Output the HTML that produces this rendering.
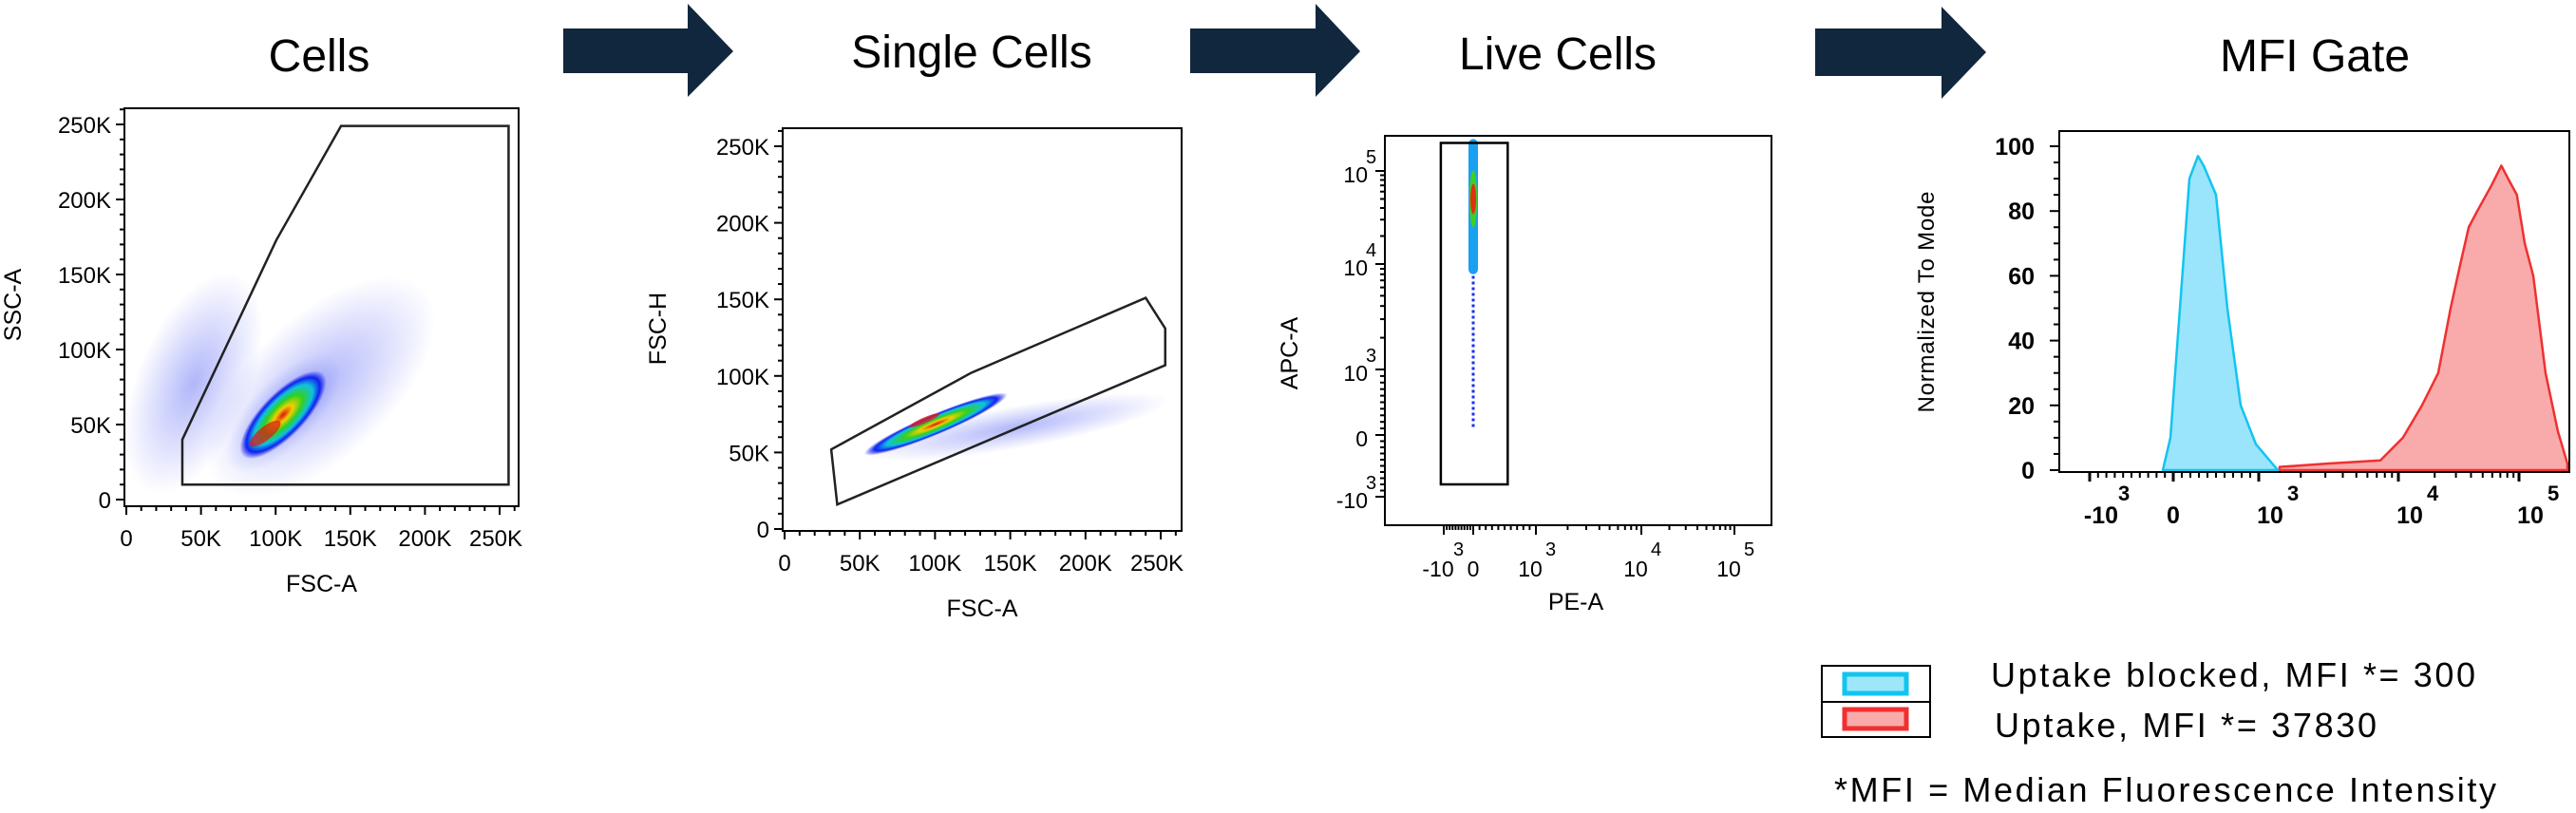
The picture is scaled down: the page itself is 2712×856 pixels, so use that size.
<!DOCTYPE html>
<html><head><meta charset="utf-8"><style>
html,body{margin:0;padding:0;background:#fff;}
svg{display:block;font-family:"Liberation Sans",sans-serif;}
</style></head><body>
<svg id="root" width="2712" height="856" viewBox="0 0 2712 856" xmlns="http://www.w3.org/2000/svg">
<defs>
<radialGradient id="gBlob"><stop offset="0" stop-color="#e01010"/><stop offset="0.22" stop-color="#f0d000"/><stop offset="0.45" stop-color="#30d020"/><stop offset="0.68" stop-color="#10c0e0"/><stop offset="0.85" stop-color="#1020f0"/><stop offset="1" stop-color="#1020f0" stop-opacity="0"/></radialGradient>
<radialGradient id="gBlue"><stop offset="0" stop-color="#2030f0" stop-opacity="0.35"/><stop offset="1" stop-color="#2030f0" stop-opacity="0"/></radialGradient>
</defs>
<g id="titles" font-size="48" text-anchor="middle" fill="#000">
<text x="336" y="75">Cells</text>
<text x="1023" y="71">Single Cells</text>
<text x="1640" y="73">Live Cells</text>
<text x="2437" y="75">MFI Gate</text>
</g>
<g fill="#11273d">
<polygon points="593,30 724,30 724,4 772,54 724,102 724,77 593,77"/>
<polygon points="1253,30 1385,30 1385,4 1432,54 1385,102 1385,77 1253,77"/>
<polygon points="1911,30 2044,30 2044,7 2091,55 2044,104 2044,80 1911,80"/>
</g>
<g id="p1"></g>
<g id="p2"></g>
<g id="p3"></g>
<g id="p4"></g>
<g>
<rect x="1918" y="701" width="114" height="75" fill="none" stroke="#000" stroke-width="2"/>
<line x1="1918" y1="739" x2="2032" y2="739" stroke="#000" stroke-width="2"/>
<rect x="1942" y="710" width="65" height="20" fill="#9ee7fb" stroke="#12c4f0" stroke-width="5"/>
<rect x="1942" y="747" width="65" height="20" fill="#f9aaaa" stroke="#f03030" stroke-width="5"/>
<text x="2096" y="723" font-size="36" textLength="510">Uptake blocked, MFI *= 300</text>
<text x="2100" y="776" font-size="36" textLength="402">Uptake, MFI *= 37830</text>
<text x="1931" y="844" font-size="36" textLength="697">*MFI = Median Fluorescence Intensity</text>
</g>
</svg>
<script>
// ---- data ----
const p1Ticks = [0, 50000, 100000, 150000, 200000, 250000];
const p1TickLabels = ["0", "50K", "100K", "150K", "200K", "250K"];
const p1Gate = [[37500, 40000], [100500, 173000], [143800, 249000], [256000, 249000], [256000, 10000], [37500, 10000]];
const p1ClusterStart = [78000, 29000];
const p1ClusterEnd = [132000, 84000];
const p1Core = [93000, 44000];
const p2Gate = [[31000, 52000], [35000, 16000], [253000, 107000], [253000, 131000], [240000, 151000], [124000, 102000]];
const p2ClusterStart = [53000, 49000];
const p2ClusterEnd = [148000, 88000];
const p2Core = [93000, 71000];
const p2Sparse = [255000, 84000];
const p3LogTicks = [-1000, 0, 1000, 10000, 100000];
const p3Gate = [[-1100, 200000], [550, -800]];
const p3StreakTop = 220000;
const p3StreakBottom = 80;
const p3Core = 50000;
const histTicks = [-1000, 0, 1000, 10000, 100000];
const histTickLabels = ["-10", "0", "10", "10", "10"];
const histTickExp = ["3", "", "3", "4", "5"];
const histYTicks = [0, 20, 40, 60, 80, 100];
const blockedX = [-125, -34, 78, 189, 289, 356, 500, 633, 789, 967, 1370];
const blockedY = [0, 10, 50, 90, 97, 94, 85, 50, 20, 8, 0];
const uptakeX = [1410, 3090, 7430, 10900, 15700, 21400, 27100, 31900, 38300, 45100, 59300, 71400, 81200, 96000, 111600, 131300, 166000, 210000, 252000];
const uptakeY = [1, 2, 3, 10, 20, 30, 50, 62, 75, 80, 88, 94, 90, 85, 70, 60, 30, 12, 2];

const NS = "http://www.w3.org/2000/svg";
function mk(parent, tag, attrs) {
  const e = document.createElementNS(NS, tag);
  for (const k in attrs) e.setAttribute(k, attrs[k]);
  parent.appendChild(e);
  return e;
}
function lin(d0, d1, r0, r1) { return v => r0 + (v - d0) / (d1 - d0) * (r1 - r0); }

function linearPanel(g, box, sx, sy, ylabel, ylabX, ylabY) {
  const frame = mk(g, "rect", {x: box[0], y: box[1], width: box[2] - box[0], height: box[3] - box[1], fill: "none", stroke: "#000", "stroke-width": 2});
  
  
  for (let v = 0; v <= 260000; v += 10000) {
    const major = v % 50000 === 0;
    const L = major ? 9 : 5;
    mk(g, "line", {x1: box[0] - L, x2: box[0], y1: sy(v), y2: sy(v), stroke: "#000", "stroke-width": 2});
    mk(g, "line", {x1: sx(v), x2: sx(v), y1: box[3], y2: box[3] + L, stroke: "#000", "stroke-width": 2});
  }
  p1Ticks.forEach((v, i) => {
    const ty = mk(g, "text", {x: box[0] - 14, y: sy(v) + 9, "font-size": 24, "text-anchor": "end"});
    ty.textContent = p1TickLabels[i];
    
    
    const tx = mk(g, "text", {x: sx(v) + (i === 5 ? -4 : 0), y: box[3] + 42, "font-size": 24, "text-anchor": "middle"});
    tx.textContent = p1TickLabels[i];
    
    
  });
  const xt = mk(g, "text", {x: (box[0] + box[2]) / 2, y: box[3] + 90, "font-size": 25, "text-anchor": "middle"});
  xt.textContent = "FSC-A";
  
  
  const yt = mk(g, "text", {x: ylabX, y: ylabY, "font-size": 25, "text-anchor": "middle", transform: `rotate(-90 ${ylabX} ${ylabY})`});
  yt.textContent = ylabel;
  
  
}
function blob(g, sx, sy, a, b, w, fill, name) {
  const x1 = sx(a[0]), y1 = sy(a[1]), x2 = sx(b[0]), y2 = sy(b[1]);
  const cx = (x1 + x2) / 2, cy = (y1 + y2) / 2;
  const len = Math.hypot(x2 - x1, y2 - y1);
  const ang = Math.atan2(y2 - y1, x2 - x1) * 180 / Math.PI;
  const e = mk(g, "ellipse", {cx: cx, cy: cy, rx: len / 2, ry: w / 2, fill: fill, transform: `rotate(${ang} ${cx} ${cy})`});
  
  
  return e;
}
function gate(g, pts, sx, sy) {
  const p = mk(g, "polygon", {points: pts.map(q => sx(q[0]) + "," + sy(q[1])).join(" "), fill: "none", stroke: "#222", "stroke-width": 2.5});
  
  
}

// Panel 1
(function () {
  const g = document.getElementById("p1");
  const box = [131, 114, 546, 533];
  const sx = lin(0, 250000, 133, 526), sy = lin(0, 250000, 526, 131);
  blob(g, sx, sy, [15000, 5000], [75000, 150000], 120, "url(#gBlue)", "sparse-events");
  blob(g, sx, sy, [60000, 10000], [200000, 140000], 150, "url(#gBlue)", "sparse-events");
  blob(g, sx, sy, [p1ClusterStart[0] - 8000, p1ClusterStart[1] - 8000], [p1ClusterEnd[0] + 8000, p1ClusterEnd[1] + 10000], 70, "url(#gBlue)", "cluster-halo");
  blob(g, sx, sy, p1ClusterStart, p1ClusterEnd, 46, "url(#gBlob)", "cell-cluster");
  blob(g, sx, sy, [p1Core[0] - 10000, p1Core[1] - 8000], [p1Core[0] + 10000, p1Core[1] + 8000], 14, "rgba(225,20,20,0.7)", "cluster-core");
  gate(g, p1Gate, sx, sy);
  linearPanel(g, box, sx, sy, "SSC-A", 22, 321);
})();

// Panel 2
(function () {
  const g = document.getElementById("p2");
  const box = [824, 135, 1244, 559];
  const sx = lin(0, 250000, 826, 1222), sy = lin(0, 250000, 557, 154);
  blob(g, sx, sy, p2ClusterStart, p2Sparse, 45, "url(#gBlue)", "sparse-events");
  blob(g, sx, sy, p2ClusterStart, p2ClusterEnd, 22, "url(#gBlob)", "singlet-cluster");
  blob(g, sx, sy, [p2Core[0] - 10000, p2Core[1] - 4200], [p2Core[0] + 10000, p2Core[1] + 4200], 6, "rgba(225,20,20,0.75)", "cluster-core");
  gate(g, p2Gate, sx, sy);
  linearPanel(g, box, sx, sy, "FSC-H", 701, 346);
})();

// biexponential-like axis via anchors
function biex(anchorsV, anchorsP) {
  return v => {
    const n = anchorsV.length;
    const u = x => x >= 1000 ? 1000 * (1 + Math.log10(x / 1000)) : x;
    const uv = u(v);
    const ua = anchorsV.map(u);
    let i = 0;
    while (i < n - 2 && uv > ua[i + 1]) i++;
    return anchorsP[i] + (uv - ua[i]) / (ua[i + 1] - ua[i]) * (anchorsP[i + 1] - anchorsP[i]);
  };
}

// Panel 3
(function () {
  const g = document.getElementById("p3");
  const box = [1458, 143, 1865, 553];
  const sx = biex(p3LogTicks, [1520, 1551, 1617, 1728, 1826]);
  const sy = biex(p3LogTicks, [523, 458, 389, 278, 180]);
  const frame = mk(g, "rect", {x: box[0], y: box[1], width: box[2] - box[0], height: box[3] - box[1], fill: "none", stroke: "#000", "stroke-width": 2});
  
  
  const x0 = sx(0);
  const s = mk(g, "line", {x1: x0, x2: x0, y1: sy(p3StreakTop), y2: sy(p3StreakBottom), stroke: "#1a30f0", "stroke-width": 3, "stroke-dasharray": "3 3"});
  
  
  const s2 = mk(g, "rect", {x: x0 - 5, y: sy(p3StreakTop), width: 10, height: sy(8000) - sy(p3StreakTop), fill: "#1aa0f0", rx: 5});
  
  
  const c = mk(g, "ellipse", {cx: x0, cy: sy(p3Core), rx: 4, ry: 30, fill: "#40d020"});
  
  
  const c2 = mk(g, "ellipse", {cx: x0, cy: sy(p3Core), rx: 3, ry: 16, fill: "#e03010"});
  
  
  const gr = mk(g, "rect", {x: sx(p3Gate[0][0]), y: sy(p3Gate[0][1]), width: sx(p3Gate[1][0]) - sx(p3Gate[0][0]), height: sy(p3Gate[1][1]) - sy(p3Gate[0][1]), fill: "none", stroke: "#000", "stroke-width": 2.5});
  
  
  const ex = ["3", "", "3", "4", "5"], base = ["-10", "0", "10", "10", "10"];
  p3LogTicks.forEach((v, i) => {
    mk(g, "line", {x1: sx(v), x2: sx(v), y1: box[3], y2: box[3] + 10, stroke: "#000", "stroke-width": 2});
    mk(g, "line", {x1: box[0] - 10, x2: box[0], y1: sy(v), y2: sy(v), stroke: "#000", "stroke-width": 2});
    const tx = mk(g, "text", {x: sx(v) - (i === 0 ? 6 : i === 1 ? 0 : 6), y: box[3] + 54, "font-size": 23, "text-anchor": "middle"});
    tx.textContent = base[i];
    
    
    if (ex[i]) { const e = mk(g, "text", {x: sx(v) + 10, y: box[3] + 32, "font-size": 20}); e.textContent = ex[i]; }
    const ty = mk(g, "text", {x: box[0] - 18, y: sy(v) + 12, "font-size": 23, "text-anchor": "end"});
    ty.textContent = base[i];
    
    
    if (ex[i]) { const e = mk(g, "text", {x: box[0] - 20, y: sy(v) - 8, "font-size": 20}); e.textContent = ex[i]; }
  });
  for (let d = 1000; d < 100000; d *= 10) for (let k = 2; k < 10; k++) {
    mk(g, "line", {x1: sx(d * k), x2: sx(d * k), y1: box[3], y2: box[3] + 5, stroke: "#000", "stroke-width": 2});
    mk(g, "line", {x1: box[0] - 5, x2: box[0], y1: sy(d * k), y2: sy(d * k), stroke: "#000", "stroke-width": 2});
  }
  for (let v = -900; v < 1000; v += 100) {
    mk(g, "line", {x1: sx(v), x2: sx(v), y1: box[3], y2: box[3] + 5, stroke: "#000", "stroke-width": 2});
    mk(g, "line", {x1: box[0] - 5, x2: box[0], y1: sy(v), y2: sy(v), stroke: "#000", "stroke-width": 2});
  }
  const xt = mk(g, "text", {x: 1659, y: 642, "font-size": 25, "text-anchor": "middle"});
  xt.textContent = "PE-A";
  
  
  const yt = mk(g, "text", {x: 1366, y: 372, "font-size": 25, "text-anchor": "middle", transform: "rotate(-90 1366 372)"});
  yt.textContent = "APC-A";
  
  
})();

// Panel 4 histogram
(function () {
  const g = document.getElementById("p4");
  const box = [2168, 138, 2705, 497];
  const sx = biex(histTicks, [2200, 2288, 2378, 2525, 2652]);
  const sy = lin(0, 100, 495, 154);
  function area(xs, ys, fill, stroke, name) {
    let d = "M" + sx(xs[0]) + "," + sy(0);
    xs.forEach((x, i) => { d += " L" + sx(x) + "," + sy(ys[i]); });
    d += " L" + sx(xs[xs.length - 1]) + "," + sy(0) + " Z";
    const p = mk(g, "path", {d: d, fill: fill, stroke: stroke, "stroke-width": 2.5, "stroke-linejoin": "round"});
    
    
  }
  area(uptakeX, uptakeY, "rgba(248,150,150,0.8)", "#f03030", "uptake-histogram");
  area(blockedX, blockedY, "rgba(120,220,250,0.75)", "#12c4f0", "uptake-blocked-histogram");
  const frame = mk(g, "rect", {x: box[0], y: box[1], width: box[2] - box[0], height: box[3] - box[1], fill: "none", stroke: "#000", "stroke-width": 2});
  
  
  for (let v = 0; v <= 100; v += 5) {
    mk(g, "line", {x1: box[0] - (v % 20 === 0 ? 10 : 6), x2: box[0], y1: sy(v), y2: sy(v), stroke: "#000", "stroke-width": 2});
  }
  histYTicks.forEach(v => {
    const t = mk(g, "text", {x: 2142, y: sy(v) + 9, "font-size": 25, "font-weight": "bold", "text-anchor": "end"});
    t.textContent = String(v);
    
    
  });
  histTicks.forEach((v, i) => {
    mk(g, "line", {x1: sx(v), x2: sx(v), y1: box[3], y2: box[3] + 10, stroke: "#000", "stroke-width": 3});
    const t = mk(g, "text", {x: sx(v) + (i === 1 ? 0 : 12), y: box[3] + 54, "font-size": 25, "font-weight": "bold", "text-anchor": "middle"});
    t.textContent = histTickLabels[i];
    
    
    if (histTickExp[i]) { const e = mk(g, "text", {x: sx(v) + 30, y: box[3] + 30, "font-size": 22, "font-weight": "bold"}); e.textContent = histTickExp[i]; }
  });
  for (let d = 1000; d < 100000; d *= 10) for (let k = 2; k < 10; k++)
    mk(g, "line", {x1: sx(d * k), x2: sx(d * k), y1: box[3], y2: box[3] + 6, stroke: "#000", "stroke-width": 2});
  for (let v = -900; v < 1000; v += 100)
    mk(g, "line", {x1: sx(v), x2: sx(v), y1: box[3], y2: box[3] + 6, stroke: "#000", "stroke-width": 2});
  const yt = mk(g, "text", {x: 2036, y: 318, "font-size": 24, "text-anchor": "middle", textLength: 233, transform: "rotate(-90 2036 318)"});
  yt.textContent = "Normalized To Mode";
  
  
})();
</script>
</body></html>
